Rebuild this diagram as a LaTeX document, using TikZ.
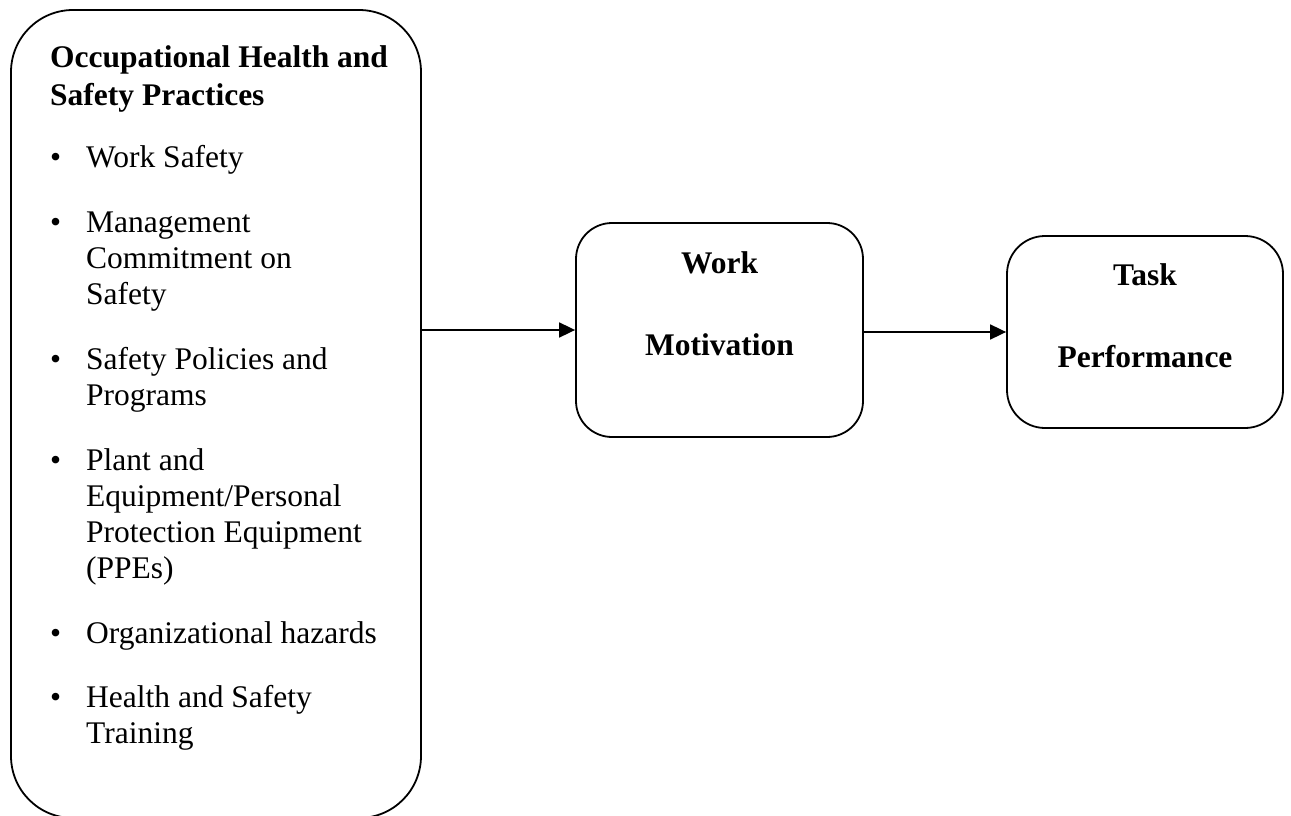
\documentclass[tikz,border=0pt]{standalone}
\usepackage{fontspec}
\setmainfont{Liberation Serif}
\usetikzlibrary{arrows.meta}

\begin{document}
\begin{tikzpicture}[x=1pt, y=-1pt,
  box/.style={draw, line width=1.8pt, inner sep=0pt},
  txt/.style={inner sep=0pt, anchor=base west, font=\fontsize{31.5}{36}\selectfont},
  ttl/.style={txt, font=\fontsize{31.5}{36}\selectfont\bfseries},
  mid/.style={inner sep=0pt, anchor=base, font=\fontsize{31.5}{36}\selectfont\bfseries},
  link/.style={line width=1.8pt, -{Triangle[length=16pt, width=15pt]}}
]
\useasboundingbox (0,0) rectangle (1291,816);
\begin{scope}
\clip (0,0) rectangle (1291,816);

% Left panel: practices
\node[box, rounded corners=62pt, minimum width=410pt, minimum height=808pt]
  (ohs) at (216,414) {};

\node[ttl] (t1) at (50,68) {Occupational Health and};
\node[ttl] (t2) at (50,105) {Safety Practices};

\node[txt] (b1) at (50,167) {•};
\node[txt] (i1) at (86,167) {Work Safety};

\node[txt] (b2) at (50,232) {•};
\node[txt] (i2a) at (86,232) {Management};
\node[txt] (i2b) at (86,268) {Commitment on};
\node[txt] (i2c) at (86,304) {Safety};

\node[txt] (b3) at (50,369) {•};
\node[txt] (i3a) at (86,369) {Safety Policies and};
\node[txt] (i3b) at (86,405) {Programs};

\node[txt] (b4) at (50,470) {•};
\node[txt] (i4a) at (86,470) {Plant and};
\node[txt] (i4b) at (86,506) {Equipment/Personal};
\node[txt] (i4c) at (86,542) {Protection Equipment};
\node[txt] (i4d) at (86,578) {(PPEs)};

\node[txt] (b5) at (50,643) {•};
\node[txt] (i5) at (86,643) {Organizational hazards};

\node[txt] (b6) at (50,707) {•};
\node[txt] (i6a) at (86,707) {Health and Safety};
\node[txt] (i6b) at (86,743) {Training};
\end{scope}

% Mediator and outcome
\node[box, rounded corners=36pt, minimum width=287pt, minimum height=214pt]
  (wm) at (719.5,330) {};
\node[mid] (wm1) at (719.5,273) {Work};
\node[mid] (wm2) at (719.5,355) {Motivation};

\node[box, rounded corners=38pt, minimum width=276pt, minimum height=192pt]
  (tp) at (1145,332) {};
\node[mid] (tp1) at (1145,285) {Task};
\node[mid] (tp2) at (1145,367) {Performance};

% Connectors
\draw[link] (ohs.east |- wm.west) -- (wm.west);
\draw[link] (wm.east |- tp.west) -- (tp.west);
\end{tikzpicture}
\end{document}
